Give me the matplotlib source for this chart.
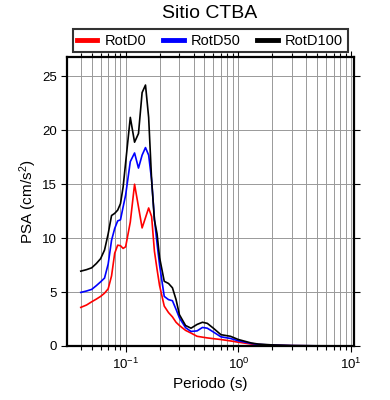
import matplotlib
matplotlib.use('Agg')
import matplotlib.pyplot as plt
from matplotlib.ticker import LogLocator, MultipleLocator, NullFormatter

plt.rcParams['font.family'] = ['Liberation Sans', 'DejaVu Sans']
plt.rcParams['mathtext.default'] = 'regular'

# periodos (s)
periods = [0.04, 0.045, 0.05, 0.055, 0.06, 0.065, 0.07, 0.075, 0.08, 0.085,
           0.09, 0.095, 0.10, 0.11, 0.12, 0.13, 0.14, 0.15, 0.16, 0.17,
           0.18, 0.19, 0.20, 0.22, 0.24, 0.26, 0.28, 0.30, 0.34, 0.38,
           0.43, 0.48, 0.53, 0.60, 0.70, 0.85, 1.0, 1.3, 1.5, 2.0,
           3.0, 5.0, 10.0]

rotd0 = [3.58, 3.8, 4.1, 4.35, 4.6, 4.9, 5.3, 6.5, 8.6, 9.35,
         9.3, 9.05, 9.2, 11.5, 15.0, 12.9, 10.95, 11.9, 12.8, 12.0,
         8.8, 7.1, 5.6, 3.7, 3.1, 2.7, 2.2, 1.9, 1.45, 1.2,
         0.9, 0.82, 0.75, 0.68, 0.6, 0.47, 0.35, 0.18, 0.13, 0.07,
         0.03, 0.012, 0.006]

rotd50 = [4.97, 5.1, 5.25, 5.6, 5.95, 6.3, 7.6, 9.8, 10.9, 11.6,
          11.7, 12.9, 14.0, 17.1, 17.9, 16.5, 17.7, 18.4, 17.7, 15.4,
          11.8, 9.5, 7.5, 4.6, 4.3, 4.2, 3.4, 2.6, 1.7, 1.35,
          1.4, 1.72, 1.65, 1.3, 0.85, 0.7, 0.48, 0.24, 0.15, 0.08,
          0.035, 0.015, 0.008]

rotd100 = [6.94, 7.08, 7.25, 7.65, 8.1, 8.9, 10.4, 12.1, 12.3, 12.6,
           13.2, 14.75, 17.0, 21.2, 18.9, 19.7, 23.5, 24.2, 21.2, 15.4,
           11.7, 10.4, 8.2, 6.0, 5.8, 5.4, 4.3, 2.9, 1.9, 1.65,
           2.0, 2.2, 2.1, 1.65, 1.05, 0.9, 0.6, 0.28, 0.18, 0.1,
           0.04, 0.02, 0.01]

fig = plt.figure(figsize=(3.9, 4.0), dpi=100)
ax = fig.add_axes([67/390, 1-346/400, (354-67)/390, (346-57)/400])

ax.plot(periods, rotd0, color='red', lw=1.2, label='RotD0')
ax.plot(periods, rotd50, color='blue', lw=1.2, label='RotD50')
ax.plot(periods, rotd100, color='black', lw=1.2, label='RotD100')

ax.set_xscale('log')
ax.set_xlim(0.0302, 10.6)
ax.set_ylim(0, 26.8)

ax.xaxis.set_major_locator(LogLocator(base=10))
ax.xaxis.set_minor_locator(LogLocator(base=10, subs=range(2, 10)))
ax.xaxis.set_minor_formatter(NullFormatter())
ax.yaxis.set_major_locator(MultipleLocator(5))

ax.grid(True, which='both', axis='x', color='#999999', lw=0.7)
ax.grid(True, which='major', axis='y', color='#999999', lw=0.7)
ax.set_axisbelow(True)

ax.tick_params(which='major', direction='out', length=4, width=0.8,
               top=True, right=True, labelsize=9.5)
ax.tick_params(which='minor', direction='out', length=3, width=0.8,
               top=True, bottom=True)
for sp in ax.spines.values():
    sp.set_linewidth(1.6)

ax.set_xlabel('Periodo (s)', fontsize=11)
ax.set_ylabel('PSA (cm/s$^2$)', fontsize=11, labelpad=2)

fig.text(210/390, 1-14/400, 'Sitio CTBA', ha='center', va='center', fontsize=14)

leg = fig.legend(loc='lower left', ncol=3, mode='expand',
                 bbox_to_anchor=(72.7/390, 1-52/400, 275/390, 24/400),
                 fontsize=10.5, frameon=True, fancybox=False,
                 handlelength=1.4, handletextpad=0.5, borderpad=0.3,
                 columnspacing=1.0, borderaxespad=0)
leg.get_frame().set_edgecolor('black')
leg.get_frame().set_linewidth(1.5)
for h in leg.get_lines():
    h.set_linewidth(3.5)

fig.savefig('out.png', dpi=100)
